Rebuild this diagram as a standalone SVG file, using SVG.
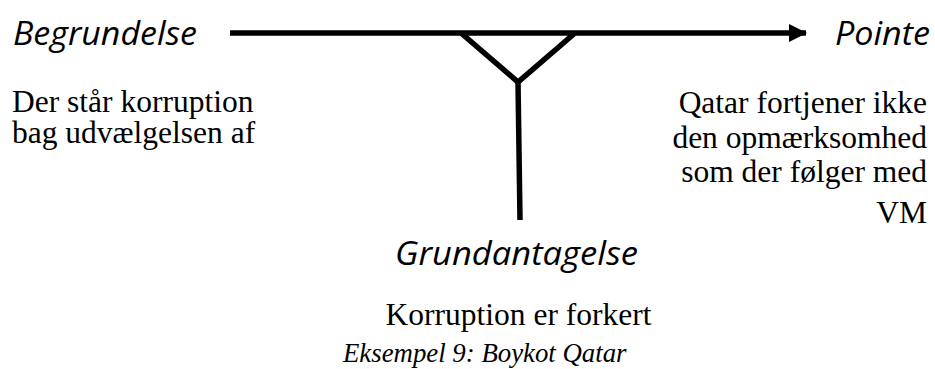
<svg xmlns="http://www.w3.org/2000/svg" width="935" height="369" viewBox="0 0 935 369">
<style>
.head{font-family:"Open Sans","Noto Sans","DejaVu Sans",sans-serif;font-style:italic;font-size:32px;fill:#000}
.body{font-family:"Liberation Serif","Times New Roman",serif;font-size:31.5px;fill:#000}
.cap{font-family:"Liberation Serif","Times New Roman",serif;font-style:italic;font-size:26.8px;fill:#000}
.ln{stroke:#000;stroke-width:5.5;fill:none}
</style>
<defs>
<marker id="ah" viewBox="0 0 18 18" refX="17" refY="9" markerWidth="18" markerHeight="18" orient="auto" markerUnits="userSpaceOnUse">
<path d="M0,0 L18,9 L0,18 z" fill="#000"/>
</marker>
</defs>
<rect width="935" height="369" fill="#fff"/>
<g id="connectors">
<line class="ln" x1="230" y1="33" x2="806" y2="33" marker-end="url(#ah)"/>
<polyline class="ln" points="461,33 518,82 575,33"/>
<line class="ln" x1="518" y1="82" x2="520" y2="220"/>
</g>
<g id="begrundelse">
<text class="head" x="13" y="45" textLength="184" lengthAdjust="spacingAndGlyphs">Begrundelse</text>
<text class="body" x="12" y="112">Der står korruption</text>
<text class="body" x="12" y="143">bag udvælgelsen af</text>
</g>
<g id="pointe">
<text class="head" x="835" y="45" textLength="95" lengthAdjust="spacingAndGlyphs">Pointe</text>
<text class="body" x="927" y="113" text-anchor="end">Qatar fortjener ikke</text>
<text class="body" x="927" y="148" text-anchor="end">den opmærksomhed</text>
<text class="body" x="927" y="182" text-anchor="end">som der følger med</text>
<text class="body" x="927" y="223" text-anchor="end">VM</text>
</g>
<g id="grundantagelse">
<text class="head" x="395" y="265" textLength="243" lengthAdjust="spacingAndGlyphs">Grundantagelse</text>
<text class="body" x="518.5" y="325" text-anchor="middle">Korruption er forkert</text>
</g>
<g id="caption">
<text class="cap" x="343" y="362">Eksempel 9: Boykot Qatar</text>
</g>
</svg>
